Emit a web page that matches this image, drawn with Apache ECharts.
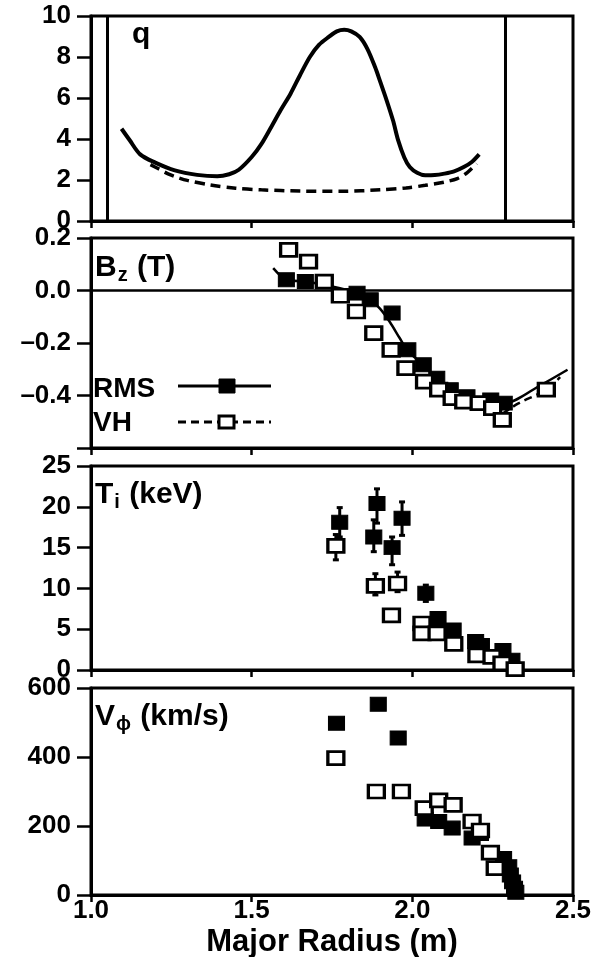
<!DOCTYPE html>
<html>
<head>
<meta charset="utf-8">
<script src="https://cdn.jsdelivr.net/npm/echarts@6/dist/echarts.min.js"></script>
<style>
html,body{margin:0;padding:0;background:#fff;}
#chart{width:605px;height:957px;}
</style>
</head>
<body>
<div id="chart"></div>
<script>
// ---------------- DATA ----------------
var xTicks = [1.0, 1.5, 2.0, 2.5];

// Panel 1: safety factor q
var qRmsCurve = [[1.095,4.50],[1.12,3.95],[1.153,3.25],[1.20,2.85],[1.261,2.47],[1.33,2.25],[1.393,2.18],[1.43,2.28],[1.46,2.50],[1.50,3.12],[1.53,3.75],[1.561,4.59],[1.59,5.40],[1.621,6.21],[1.65,7.10],[1.681,8.00],[1.71,8.60],[1.74,8.98],[1.765,9.25],[1.788,9.33],[1.81,9.25],[1.836,8.98],[1.86,8.40],[1.884,7.51],[1.90,6.80],[1.92,5.89],[1.94,4.90],[1.956,3.93],[1.975,3.10],[1.992,2.63],[2.015,2.35],[2.04,2.23],[2.07,2.24],[2.10,2.31],[2.13,2.42],[2.16,2.63],[2.185,2.88],[2.208,3.25]];
var qVhCurve = [[1.185,2.75],[1.21,2.55],[1.24,2.30],[1.27,2.12],[1.30,1.98],[1.37,1.76],[1.45,1.60],[1.53,1.52],[1.65,1.46],[1.78,1.45],[1.90,1.52],[1.98,1.61],[2.04,1.74],[2.10,1.90],[2.14,2.07],[2.17,2.35],[2.20,2.80]];
var wallR = [1.055, 2.286];

// Panel 2: Bz (T)
var bzRms = [[1.608,0.041],[1.667,0.034],[1.828,-0.010],[1.869,-0.035],[1.937,-0.086],[1.986,-0.226],[2.034,-0.283],[2.076,-0.334],[2.118,-0.378],[2.17,-0.405],[2.244,-0.417],[2.286,-0.429]];
var bzVh = [[1.615,0.155],[1.677,0.110],[1.726,0.034],[1.776,-0.020],[1.826,-0.080],[1.880,-0.162],[1.934,-0.226],[1.980,-0.296],[2.038,-0.347],[2.082,-0.378],[2.124,-0.410],[2.160,-0.423],[2.208,-0.429],[2.250,-0.448],[2.280,-0.493],[2.417,-0.378]];
var bzRmsFit = [[1.567,0.085],[1.608,0.041],[1.667,0.034],[1.75,0.015],[1.828,-0.010],[1.869,-0.035],[1.90,-0.07],[1.93,-0.12],[1.96,-0.18],[1.986,-0.23],[2.034,-0.283],[2.076,-0.334],[2.118,-0.378],[2.17,-0.405],[2.244,-0.420],[2.286,-0.429],[2.40,-0.36],[2.483,-0.302]];
var bzVhFit = [[2.28,-0.47],[2.33,-0.43],[2.417,-0.378],[2.46,-0.33]];

// Panel 3: Ti (keV)
var tiRms = [[1.774,18.1],[1.890,20.4],[1.880,16.3],[1.937,15.0],[1.968,18.6],[2.042,9.4],[2.080,6.3],[2.127,4.9],[2.197,3.5],[2.215,3.0],[2.282,2.4],[2.310,1.2]];
var tiRmsErr = [[1.774,16.3,19.9],[1.890,18.0,22.2],[1.880,14.5,18.4],[1.937,12.9,16.3],[1.968,16.5,20.6],[2.042,8.4,10.4]];
var tiVh = [[1.762,15.2],[1.885,10.3],[1.954,10.6],[1.935,6.7],[2.030,5.7],[2.030,4.5],[2.077,4.5],[2.129,3.2],[2.201,1.8],[2.248,1.6],[2.279,0.8],[2.32,0.1]];
var tiVhErr = [[1.762,13.5,16.6],[1.885,9.2,11.8],[1.954,9.6,12.0]];

// Panel 4: V_phi (km/s)
var vRms = [[1.764,498],[1.894,553],[1.956,455],[2.040,220],[2.082,213],[2.124,194],[2.186,165],[2.212,178],[2.284,106],[2.300,82],[2.305,58],[2.312,38],[2.318,20],[2.322,8]];
var vVh = [[1.762,397],[1.888,300],[1.966,300],[2.037,252],[2.082,274],[2.127,261],[2.186,213],[2.212,187],[2.243,123],[2.258,78]];

// ---------------- CHART ----------------
var FONT = '"Liberation Sans", Arial, Helvetica, sans-serif';
var chart = echarts.init(document.getElementById('chart'), null, {renderer:'canvas'});

var grids = [
  {left:91, width:482, top:16, height:205},
  {left:91, width:482, top:238, height:210},
  {left:91, width:482, top:466, height:204},
  {left:91, width:482, top:688, height:207}
];
grids.forEach(function(g){
  g.show = true; g.borderColor = '#000'; g.borderWidth = 3; g.backgroundColor = 'transparent';
  g.containLabel = false; g.outerBoundsMode = 'none';
});

function xAx(i, showLabels){
  var o = {
    type:'value', gridIndex:i, min:1.0, max:2.5, interval:0.5,
    axisLine:{show:true, onZero:false, lineStyle:{color:'#000', width:3}},
    axisTick:{show:true, inside:false, length:7, lineStyle:{color:'#000', width:2.5}},
    splitLine:{show:false},
    axisLabel:{show:showLabels, color:'#000', fontFamily:FONT, fontWeight:'bold', fontSize:26, margin:3,
      formatter:function(v){ return v.toFixed(1); }}
  };
  if (showLabels) {
    o.name = 'Major Radius (m)';
    o.nameLocation = 'middle';
    o.nameGap = 32;
    o.nameTextStyle = {color:'#000', fontFamily:FONT, fontWeight:'bold', fontSize:31};
  }
  return o;
}
function yAx(i, min, max, interval, fmt){
  return {
    type:'value', gridIndex:i, min:min, max:max, interval:interval,
    axisLine:{show:true, onZero:false, lineStyle:{color:'#000', width:3}},
    axisTick:{show:true, inside:false, length:14, lineStyle:{color:'#000', width:2.5}},
    splitLine:{show:false},
    axisLabel:{color:'#000', fontFamily:FONT, fontWeight:'bold', fontSize:26, margin:20, formatter:fmt}
  };
}

var filledSq = {symbol:'rect', symbolSize:[16,14], itemStyle:{color:'#000', borderColor:'#000', borderWidth:1, opacity:1}};
var openSq = {symbol:'rect', symbolSize:[16,13], itemStyle:{color:'#fff', borderColor:'#000', borderWidth:3, opacity:1}};

function scatter(data, xi, style, z){
  return Object.assign({type:'scatter', xAxisIndex:xi, yAxisIndex:xi, data:data, z:z, silent:true,
    emphasis:{disabled:true}}, JSON.parse(JSON.stringify(style)));
}

function errSeries(data, xi){
  return {
    type:'custom', xAxisIndex:xi, yAxisIndex:xi, data:data, z:1, silent:true,
    encode:{x:0, y:[1,2]},
    renderItem:function(params, api){
      var x = api.value(0);
      var p1 = api.coord([x, api.value(1)]);
      var p2 = api.coord([x, api.value(2)]);
      return {type:'group', children:[
        {type:'line', shape:{x1:p1[0], y1:p1[1], x2:p2[0], y2:p2[1]}, style:{stroke:'#000', lineWidth:3}},
        {type:'line', shape:{x1:p1[0]-3, y1:p1[1], x2:p1[0]+3, y2:p1[1]}, style:{stroke:'#000', lineWidth:3}},
        {type:'line', shape:{x1:p2[0]-3, y1:p2[1], x2:p2[0]+3, y2:p2[1]}, style:{stroke:'#000', lineWidth:3}}
      ]};
    }
  };
}

var titleRich = {
  b:{fontSize:30, fontWeight:'bold', fontFamily:FONT, fill:'#000'},
  s:{fontSize:20, fontWeight:'bold', fontFamily:FONT, fill:'#000', padding:[14,1,0,1]}
};

var option = {
  animation:false,
  backgroundColor:'#fff',
  textStyle:{fontFamily:FONT},
  grid:grids,
  xAxis:[xAx(0,false), xAx(1,false), xAx(2,false), xAx(3,true)],
  yAxis:[
    yAx(0, 0, 10, 2, function(v){ return String(v); }),
    yAx(1, -0.6, 0.2, 0.2, function(v){
      if (Math.abs(v + 0.6) < 1e-6) return '';
      var s = Math.abs(v).toFixed(1);
      return v < -1e-6 ? '\u2013' + s : s;
    }),
    yAx(2, 0, 25, 5, function(v){ return String(v); }),
    yAx(3, 0, 600, 200, function(v){ return String(v); })
  ],
  series:[
    // q panel
    {type:'line', xAxisIndex:0, yAxisIndex:0, data:qRmsCurve, smooth:0.3, showSymbol:false, symbol:'none',
      lineStyle:{color:'#000', width:4}, z:3, silent:true,
      markLine:{silent:true, symbol:'none', label:{show:false}, lineStyle:{color:'#000', width:3, type:'solid'},
        data: wallR.map(function(r){ return {xAxis:r}; })}},
    {type:'line', xAxisIndex:0, yAxisIndex:0, data:qVhCurve, smooth:0.3, showSymbol:false, symbol:'none',
      lineStyle:{color:'#000', width:3.5, type:[10,6]}, z:3, silent:true},
    // Bz panel
    {type:'line', xAxisIndex:1, yAxisIndex:1, data:bzRmsFit, smooth:0.3, showSymbol:false, symbol:'none',
      lineStyle:{color:'#000', width:2.5}, z:2, silent:true,
      markLine:{silent:true, symbol:'none', label:{show:false}, lineStyle:{color:'#000', width:2.5, type:'solid'},
        data:[{yAxis:0}]}},
    {type:'line', xAxisIndex:1, yAxisIndex:1, data:bzVhFit, smooth:0.3, showSymbol:false, symbol:'none',
      lineStyle:{color:'#000', width:2.5, type:[8,5]}, z:2, silent:true},
    scatter(bzRms, 1, filledSq, 4),
    scatter(bzVh, 1, openSq, 5),
    // Ti panel
    errSeries(tiRmsErr, 2),
    errSeries(tiVhErr, 2),
    scatter(tiRms, 2, filledSq, 4),
    scatter(tiVh, 2, openSq, 5),
    // V panel
    scatter(vRms, 3, filledSq, 4),
    scatter(vVh, 3, openSq, 5)
  ],
  graphic:[
    {type:'text', x:132, y:20, z:100, style:{text:'q', font:'bold 30px ' + FONT, fill:'#000'}},
    {type:'text', x:95, y:251, z:100, style:{text:'{b|B}{s|z}{b| (T)}', rich:titleRich}},
    {type:'text', x:95, y:478, z:100, style:{text:'{b|T}{s|i}{b| (keV)}', rich:titleRich}},
    {type:'text', x:95, y:700, z:100, style:{text:'{b|V}{s|\u03d5}{b| (km/s)}', rich:titleRich}},
    // legend
    {type:'text', x:93, y:375, z:100, style:{text:'RMS', font:'bold 28px ' + FONT, fill:'#000'}},
    {type:'line', z:100, shape:{x1:178, y1:386, x2:271, y2:386}, style:{stroke:'#000', lineWidth:3}},
    {type:'rect', z:101, shape:{x:219, y:379, width:16, height:14}, style:{fill:'#000', stroke:'#000', lineWidth:1}},
    {type:'text', x:93, y:409, z:100, style:{text:'VH', font:'bold 28px ' + FONT, fill:'#000'}},
    {type:'line', z:100, shape:{x1:178, y1:422, x2:271, y2:422}, style:{stroke:'#000', lineWidth:3, lineDash:[8,5]}},
    {type:'rect', z:101, shape:{x:219, y:416, width:15, height:12}, style:{fill:'#fff', stroke:'#000', lineWidth:3}}
  ]
};
chart.setOption(option);
</script>
</body>
</html>
